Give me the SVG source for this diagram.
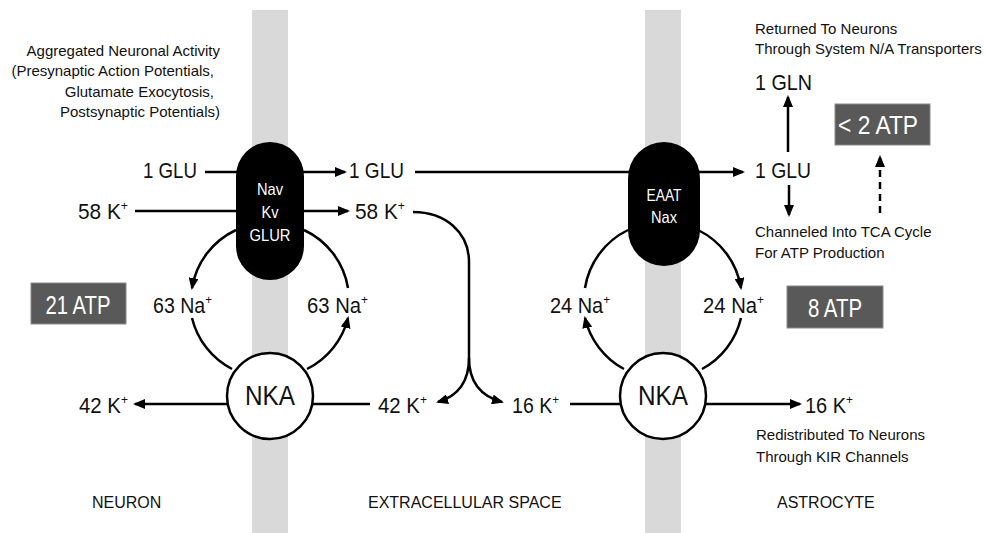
<svg xmlns="http://www.w3.org/2000/svg" width="985" height="533" viewBox="0 0 985 533">
<defs>
<style>
text{font-family:"Liberation Sans",Arial,sans-serif;fill:#111}
.lbl{font-size:22px}
.sm{font-size:15px}
.reg{font-size:16px}
.sup{font-size:13px}
.pill{fill:#000}
.pt{font-size:17px;fill:#fff;text-anchor:middle}
.nka{fill:#fff;stroke:#000;stroke-width:2.5}
.nkt{font-size:28px;text-anchor:middle}
.box{fill:#595959;stroke:#8a8a8a;stroke-width:1}
.bt{font-size:26px;fill:#fff;text-anchor:middle}
.band{fill:#d9d9d9}
.ln{fill:none;stroke:#000;stroke-width:2.5}
.arr{marker-end:url(#ah)}
.dash{stroke-dasharray:7 5}
.end{text-anchor:end}
</style>
<marker id="ah" viewBox="0 0 12 10" refX="10" refY="5" markerWidth="12" markerHeight="10" markerUnits="userSpaceOnUse" orient="auto"><path d="M0,0 L12,5 L0,10 z" fill="#000"/></marker>
</defs>
<rect width="985" height="533" fill="#fff"/>
<g id="membranes">
<rect class="band" x="252" y="10" width="36" height="523"/>
<rect class="band" x="645" y="10" width="36" height="523"/>
</g>
<g id="connectors">
<path class="ln arr" d="M205 172 H345"/>
<path class="ln arr" d="M415 172 H743"/>
<path class="ln arr" d="M135 211 H348"/>
<path class="ln arr" d="M370 404 H135"/>
<path class="ln arr" d="M570 404 H800"/>
<path class="ln" d="M413 212 C445 212 469 232 469 262 L469 358"/>
<path class="ln arr" d="M469 358 C469 382 458 396 438 402"/>
<path class="ln arr" d="M469 358 C469 382 480 396 502 402"/>
<path class="ln arr" d="M236 230 A78 78 0 0 0 192 288"/>
<path class="ln" d="M192 318 A78 78 0 0 0 232 369"/>
<path class="ln arr" d="M307 369 A78 78 0 0 0 348 318"/>
<path class="ln" d="M304 230 A78 78 0 0 1 348 288"/>
<path class="ln" d="M628 230 A78 78 0 0 0 585 288"/>
<path class="ln arr" d="M698 230 A78 78 0 0 1 741 288"/>
<path class="ln arr" d="M624 369 A78 78 0 0 1 585 318"/>
<path class="ln" d="M741 318 A78 78 0 0 1 702 369"/>
<path class="ln arr" d="M788 152 V97"/>
<path class="ln arr" d="M789 185 V215"/>
<path class="ln arr dash" d="M880 213 V157"/>
</g>
<g id="neuron-channels">
<rect class="pill" x="236" y="142" width="68" height="138" rx="34"/>
<text class="pt" x="270" y="195" textLength="26" lengthAdjust="spacingAndGlyphs">Nav</text>
<text class="pt" x="270" y="218" textLength="17" lengthAdjust="spacingAndGlyphs">Kv</text>
<text class="pt" x="270" y="241" textLength="41" lengthAdjust="spacingAndGlyphs">GLUR</text>
</g>
<g id="astro-transporters">
<rect class="pill" x="628" y="142" width="72" height="124" rx="36"/>
<text class="pt" x="664" y="201" textLength="35" lengthAdjust="spacingAndGlyphs">EAAT</text>
<text class="pt" x="664" y="223" textLength="26" lengthAdjust="spacingAndGlyphs">Nax</text>
</g>
<g id="nka-neuron">
<circle class="nka" cx="270" cy="396" r="43"/>
<text class="nkt" x="270" y="405" textLength="50" lengthAdjust="spacingAndGlyphs">NKA</text>
</g>
<g id="nka-astro">
<circle class="nka" cx="663" cy="396" r="43"/>
<text class="nkt" x="663" y="405" textLength="50" lengthAdjust="spacingAndGlyphs">NKA</text>
</g>
<g id="activity-note">
<text class="sm end" x="220" y="56">Aggregated Neuronal Activity</text>
<text class="sm end" x="214" y="76">(Presynaptic Action Potentials,</text>
<text class="sm end" x="214" y="97">Glutamate Exocytosis,</text>
<text class="sm end" x="220" y="117">Postsynaptic Potentials)</text>
</g>
<g id="glu-neuron"><text class="lbl end" x="197" y="178" textLength="54" lengthAdjust="spacingAndGlyphs">1 GLU</text></g>
<g id="k-neuron"><text class="lbl end" x="128" y="219" textLength="50" lengthAdjust="spacingAndGlyphs">58 K<tspan class="sup" dy="-9">+</tspan></text></g>
<g id="glu-ecs"><text class="lbl" x="349" y="178" textLength="55" lengthAdjust="spacingAndGlyphs">1 GLU</text></g>
<g id="k-ecs"><text class="lbl" x="355" y="219" textLength="50" lengthAdjust="spacingAndGlyphs">58 K<tspan class="sup" dy="-9">+</tspan></text></g>
<g id="glu-astro"><text class="lbl" x="755" y="178" textLength="56" lengthAdjust="spacingAndGlyphs">1 GLU</text></g>
<g id="gln-astro"><text class="lbl" x="755" y="90" textLength="57" lengthAdjust="spacingAndGlyphs">1 GLN</text></g>
<g id="gln-note">
<text class="sm" x="755" y="34">Returned To Neurons</text>
<text class="sm" x="755" y="54">Through System N/A Transporters</text>
</g>
<g id="tca-note">
<text class="sm" x="755" y="237">Channeled Into TCA Cycle</text>
<text class="sm" x="755" y="258">For ATP Production</text>
</g>
<g id="atp-astro-glu">
<rect class="box" x="835" y="104" width="95" height="41"/>
<text class="bt" x="878" y="134" textLength="80" lengthAdjust="spacingAndGlyphs">&lt; 2 ATP</text>
</g>
<g id="atp-neuron">
<rect class="box" x="31" y="283" width="95" height="41"/>
<text class="bt" x="78" y="314" textLength="65" lengthAdjust="spacingAndGlyphs">21 ATP</text>
</g>
<g id="atp-astro">
<rect class="box" x="787" y="286" width="96" height="42"/>
<text class="bt" x="835" y="317" textLength="54" lengthAdjust="spacingAndGlyphs">8 ATP</text>
</g>
<g id="na-neuron-in"><text class="lbl" x="153" y="313" textLength="59" lengthAdjust="spacingAndGlyphs">63 Na<tspan class="sup" dy="-9">+</tspan></text></g>
<g id="na-neuron-out"><text class="lbl" x="307" y="313" textLength="61" lengthAdjust="spacingAndGlyphs">63 Na<tspan class="sup" dy="-9">+</tspan></text></g>
<g id="na-astro-out"><text class="lbl" x="550" y="313" textLength="60" lengthAdjust="spacingAndGlyphs">24 Na<tspan class="sup" dy="-9">+</tspan></text></g>
<g id="na-astro-in"><text class="lbl" x="703" y="313" textLength="61" lengthAdjust="spacingAndGlyphs">24 Na<tspan class="sup" dy="-9">+</tspan></text></g>
<g id="k-neuron-in"><text class="lbl" x="79" y="413" textLength="49" lengthAdjust="spacingAndGlyphs">42 K<tspan class="sup" dy="-9">+</tspan></text></g>
<g id="k-ecs-42"><text class="lbl" x="378" y="413" textLength="49" lengthAdjust="spacingAndGlyphs">42 K<tspan class="sup" dy="-9">+</tspan></text></g>
<g id="k-ecs-16"><text class="lbl" x="512" y="413" textLength="47" lengthAdjust="spacingAndGlyphs">16 K<tspan class="sup" dy="-9">+</tspan></text></g>
<g id="k-astro"><text class="lbl" x="805" y="413" textLength="48" lengthAdjust="spacingAndGlyphs">16 K<tspan class="sup" dy="-9">+</tspan></text></g>
<g id="kir-note">
<text class="sm" x="756" y="440">Redistributed To Neurons</text>
<text class="sm" x="756" y="462">Through KIR Channels</text>
</g>
<g id="region-labels">
<text class="reg" x="92" y="508">NEURON</text>
<text class="reg" x="368" y="508">EXTRACELLULAR SPACE</text>
<text class="reg" x="777" y="508">ASTROCYTE</text>
</g>
</svg>
